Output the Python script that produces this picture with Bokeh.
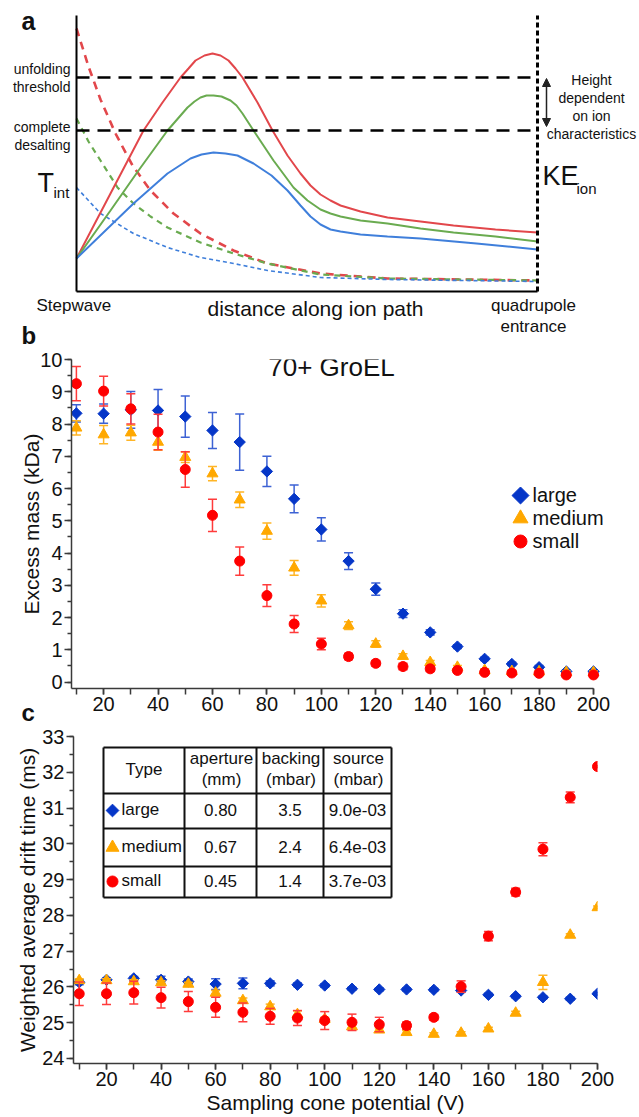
import numpy as np
from bokeh.plotting import figure
from bokeh.models import Range1d, Label, Arrow, NormalHead, FixedTicker
from bokeh.core.properties import value
from bokeh.embed import file_html
from bokeh.resources import INLINE

FONT = "Liberation Sans"

# ---------------- panel a : schematic (arbitrary units) ----------------
# distance along ion path (0 = stepwave, 461 = quadrupole entrance); energy units arbitrary
red_solid_d = [0, 34, 67, 86, 104, 112, 119, 128, 136, 144, 152, 159, 166, 181, 196, 211, 224, 234, 244, 254, 264, 284, 311, 344, 377, 419, 461]
red_solid_T = [33, 98, 161, 189, 214, 223, 231, 236, 238, 236, 231, 223, 214, 189, 161, 136, 118, 106, 97, 91, 86, 80, 74, 70, 66, 62, 59]
green_solid_d = [0, 34, 62, 91, 111, 118, 124, 130, 137, 145, 154, 160, 166, 177, 197, 217, 231, 244, 254, 264, 284, 311, 344, 377, 419, 461]
green_solid_T = [33, 81, 121, 161, 184, 190, 194, 196, 196, 195, 191, 186, 178, 161, 131, 104, 91, 82, 78, 75, 71, 68, 63, 59, 55, 50]
blue_solid_d = [0, 57, 91, 114, 125, 137, 149, 161, 177, 195, 211, 224, 234, 244, 254, 264, 284, 311, 344, 400, 461]
blue_solid_T = [33, 88, 118, 133, 137, 139, 138, 136, 128, 116, 101, 86, 75, 67, 62, 60, 57, 55, 53, 48, 42]
red_dash_d = [0, 12, 24, 39, 56, 74, 97, 124, 157, 191, 244, 311, 461]
red_dash_T = [263, 225, 192, 158, 126, 101, 78, 58, 41, 28, 18, 13, 11]
green_dash_d = [0, 12, 24, 41, 57, 74, 91, 124, 157, 191, 244, 311, 461]
green_dash_T = [173, 150, 131, 104, 88, 75, 64, 49, 38, 28, 17, 13, 11]
blue_dash_d = [0, 24, 57, 91, 124, 157, 191, 244, 311, 461]
blue_dash_T = [104, 78, 58, 44, 34, 28, 21, 14, 12, 10]
T_unfold = 214
T_desalt = 161
path_end = 461
energy_top = 276

# ---------------- panels b and c ----------------
voltage = [10, 20, 30, 40, 50, 60, 70, 80, 90, 100, 110, 120, 130, 140, 150, 160, 170, 180, 190, 200]

large_b = [8.33, 8.32, 8.44, 8.42, 8.23, 7.80, 7.44, 6.53, 5.68, 4.73, 3.75, 2.88, 2.12, 1.54, 1.10, 0.72, 0.56, 0.46, 0.33, 0.33]
large_b_err = [0.27, 0.30, 0.57, 0.65, 0.64, 0.56, 0.87, 0.47, 0.43, 0.36, 0.26, 0.19, 0.12, 0.08, 0.06, 0.05, 0.05, 0.05, 0.04, 0.04]
medium_b = [7.88, 7.67, 7.73, 7.44, 6.97, 6.46, 5.65, 4.68, 3.54, 2.52, 1.75, 1.18, 0.80, 0.61, 0.46, 0.36, 0.33, 0.32, 0.30, 0.30]
medium_b_err = [0.22, 0.28, 0.23, 0.25, 0.16, 0.22, 0.24, 0.25, 0.23, 0.19, 0.12, 0.10, 0.08, 0.06, 0.05, 0.05, 0.04, 0.04, 0.04, 0.04]
small_b = [9.25, 9.02, 8.47, 7.75, 6.59, 5.17, 3.75, 2.68, 1.80, 1.18, 0.79, 0.58, 0.48, 0.41, 0.36, 0.30, 0.28, 0.27, 0.22, 0.22]
small_b_err = [0.53, 0.46, 0.47, 0.55, 0.55, 0.50, 0.44, 0.34, 0.26, 0.18, 0.10, 0.09, 0.10, 0.08, 0.06, 0.05, 0.05, 0.05, 0.05, 0.05]

large_c = [26.13, 26.20, 26.24, 26.20, 26.15, 26.08, 26.10, 26.10, 26.06, 26.04, 25.95, 25.93, 25.93, 25.92, 25.90, 25.78, 25.74, 25.71, 25.67, 25.81]
large_c_err = [0.07, 0.05, 0.05, 0.10, 0.07, 0.15, 0.15, 0.07, 0.05, 0.05, 0.04, 0.04, 0.04, 0.04, 0.04, 0.04, 0.04, 0.04, 0.04, 0.04]
medium_c = [26.18, 26.18, 26.15, 26.12, 26.08, 25.83, 25.62, 25.45, 25.23, 25.10, 24.89, 24.80, 24.73, 24.68, 24.71, 24.83, 25.27, 26.13, 27.45, 28.22]
medium_c_err = [0.05, 0.05, 0.05, 0.05, 0.05, 0.07, 0.07, 0.07, 0.10, 0.05, 0.05, 0.05, 0.05, 0.04, 0.04, 0.04, 0.05, 0.20, 0.04, 0.04]
small_c = [25.81, 25.81, 25.84, 25.70, 25.59, 25.43, 25.29, 25.18, 25.13, 25.06, 25.01, 24.95, 24.92, 25.15, 26.01, 27.42, 28.65, 29.85, 31.30, 32.16]
small_c_err = [0.33, 0.30, 0.32, 0.29, 0.28, 0.28, 0.26, 0.22, 0.21, 0.25, 0.23, 0.20, 0.10, 0.08, 0.16, 0.13, 0.11, 0.18, 0.15, 0.03]

series_names = ["large", "medium", "small"]
aperture_mm = ["0.80", "0.67", "0.45"]
backing_mbar = ["3.5", "2.4", "1.4"]
source_mbar = ["9.0e-03", "6.4e-03", "3.7e-03"]
table_header = [["Type"], ["aperture", "(mm)"], ["backing", "(mbar)"], ["source", "(mbar)"]]

colors = ["#0536C8", "#FFA800", "#FF0000"]
err_colors = ["#3D62D4", "#FFB526", "#FF3B3B"]
markers = ["square", "triangle", "circle"]
angles = [np.pi / 4, 0, 0]
msizes = [8, 11, 10]

W = 639
HA = 348
HB = 377
HC = 1117 - HA - HB


def txt(p, x, y, s, size, align="left", baseline="middle", bold=False, angle=0):
    p.text(x=[x], y=[y], text=[s], text_font=value(FONT), text_font_size=f"{size}px",
           text_align=align, text_baseline=baseline, angle=angle,
           text_font_style="bold" if bold else "normal", text_color="#111111")


# ======================= panel a =======================
pa = figure(width=W, height=HA, x_range=Range1d(-76, W - 76), y_range=Range1d(291 - HA, 291),
            output_backend="svg", toolbar_location=None, x_axis_type=None, y_axis_type=None,
            title=None,
            min_border_left=0, min_border_right=0, min_border_top=0, min_border_bottom=0)
pa.grid.visible = False
pa.outline_line_color = None


def ad(px):
    return px - 76


def aT(py):
    return 291 - py


red_a, green_a, blue_a = "#E2474B", "#6AAB50", "#3F7FDB"
pa.line(red_dash_d, red_dash_T, line_color=red_a, line_width=2.6, line_dash="8 6")
pa.line(green_dash_d, green_dash_T, line_color=green_a, line_width=2.2, line_dash="6 5")
pa.line(blue_dash_d, blue_dash_T, line_color=blue_a, line_width=1.6, line_dash="4 3")
pa.line(red_solid_d, red_solid_T, line_color=red_a, line_width=2)
pa.line(green_solid_d, green_solid_T, line_color=green_a, line_width=2)
pa.line(blue_solid_d, blue_solid_T, line_color=blue_a, line_width=2)
pa.line([0, path_end], [T_unfold, T_unfold], line_color="black", line_width=2.5, line_dash="13 8")
pa.line([0, path_end], [T_desalt, T_desalt], line_color="black", line_width=2.5, line_dash="13 8")
pa.line([0, 0], [0, energy_top], line_color="black", line_width=2)
pa.line([0, path_end], [0, 0], line_color="black", line_width=2)
pa.line([path_end, path_end], [0, energy_top], line_color="black", line_width=3, line_dash="5 3")
pa.add_layout(Arrow(x_start=ad(546), y_start=T_desalt + 4, x_end=ad(546), y_end=T_unfold - 1,
                    line_width=1.5, line_color="#222222",
                    start=NormalHead(size=8, fill_color="#222222", line_color="#222222"),
                    end=NormalHead(size=8, fill_color="#222222", line_color="#222222")))

txt(pa, ad(21), aT(20), "a", 25, bold=True)
txt(pa, ad(70), aT(68), "unfolding", 14, align="right")
txt(pa, ad(70), aT(86), "threshold", 14, align="right")
txt(pa, ad(70), aT(126), "complete", 14, align="right")
txt(pa, ad(70), aT(144), "desalting", 14, align="right")
txt(pa, ad(37), aT(182), "T", 27)
txt(pa, ad(53), aT(192), "int", 15)
txt(pa, ad(542), aT(175), "KE", 27)
txt(pa, ad(576), aT(188), "ion", 15)
for i, s in enumerate(["Height", "dependent", "on ion", "characteristics"]):
    txt(pa, ad(591), aT(79 + 18 * i), s, 14, align="center")
txt(pa, ad(36), aT(305), "Stepwave", 17)
txt(pa, ad(315), aT(308), "distance along ion path", 21, align="center")
txt(pa, ad(533), aT(305), "quadrupole", 17, align="center")
txt(pa, ad(533), aT(326), "entrance", 17, align="center")
txt(pa, ad(21), aT(335), "b", 24, bold=True)


# ======================= axes style =======================
def style_axes(p, xlabel_font=21):
    for ax in [p.xaxis[0], p.yaxis[0]]:
        ax.axis_line_color = "#3a3a3a"
        ax.axis_line_width = 1.5
        ax.major_tick_line_color = "#3a3a3a"
        ax.minor_tick_line_color = "#3a3a3a"
        ax.major_tick_line_width = 1.5
        ax.minor_tick_line_width = 1.5
        ax.major_tick_in = 0
        ax.minor_tick_in = 0
        ax.major_label_text_font = FONT
        ax.major_label_text_font_size = "20px"
        ax.major_label_text_color = "#111111"
        ax.major_label_standoff = 2
        ax.axis_label_text_font = FONT
        ax.axis_label_text_font_size = f"{xlabel_font}px"
        ax.axis_label_text_font_style = "normal"
        ax.axis_label_text_color = "#111111"
    p.xaxis[0].major_tick_out = 6
    p.xaxis[0].minor_tick_out = 6
    p.yaxis[0].major_tick_out = 7
    p.yaxis[0].minor_tick_out = 4
    p.grid.visible = False
    p.outline_line_color = None


def draw_series(p, x, y, e, k):
    lo = [a - b for a, b in zip(y, e)]
    hi = [a + b for a, b in zip(y, e)]
    p.segment(x0=x, y0=lo, x1=x, y1=hi, line_color=err_colors[k], line_width=1.5)
    p.scatter(x + x, lo + hi, marker="dash", size=9, line_color=err_colors[k], line_width=1.5)
    p.scatter(x, y, marker=markers[k], angle=angles[k], size=msizes[k],
              fill_color=colors[k], line_color=colors[k], line_width=1)


# ======================= panel b =======================
B_TOP, B_BOT, B_L, B_R = 359, 688, 71, 593     # pixel positions of 10 kDa, axis line, 8.2 V, 200 V
B_FR = 632                                     # frame right edge (room for legend text)
bx0, bx200, by0, by1 = 8.2, 200, -0.2, 10
bkx = (B_R - B_L) / (bx200 - bx0)
pb = figure(width=W, height=HB, x_range=Range1d(bx0, bx200 + (B_FR - B_R) / bkx), y_range=Range1d(by0, by1),
            output_backend="svg", toolbar_location=None, title=None,
            min_border_left=B_L, min_border_right=W - B_FR,
            min_border_top=B_TOP - HA, min_border_bottom=HA + HB - B_BOT)
pb.xaxis.ticker = FixedTicker(ticks=list(range(20, 201, 20)), minor_ticks=list(range(10, 201, 10)))
pb.xaxis.bounds = (bx0, bx200)
pb.yaxis.ticker = FixedTicker(ticks=list(range(0, 11)), minor_ticks=[i * 0.5 for i in range(21)])
pb.yaxis.axis_label = "Excess mass (kDa)"
style_axes(pb)
pb.yaxis.axis_label_standoff = -6


def bx(px):
    return bx0 + (px - B_L) / bkx


def by(py):
    return by0 + (B_BOT - py) * (by1 - by0) / (B_BOT - B_TOP)


for k, (yv, ev) in enumerate([(large_b, large_b_err), (medium_b, medium_b_err), (small_b, small_b_err)]):
    draw_series(pb, voltage, yv, ev, k)

txt(pb, bx(331), by(366), "70+ GroEL", 26, align="center")
leg_sizes = [12, 15, 13]
for k, (py, name) in enumerate(zip([494, 517, 540], series_names)):
    pb.scatter([bx(520)], [by(py + 1)], marker=markers[k], angle=angles[k], size=leg_sizes[k],
               fill_color=colors[k], line_color=colors[k])
    txt(pb, bx(532), by(py), name, 20)
# panel letter "c" sits left of the frame: put the label in the left side panel (not clipped)
pb.add_layout(Label(x=bx(21), y=by(712), text="c", text_font=FONT, text_font_size="24px",
                    text_font_style="bold", text_baseline="middle", text_color="#111111"), "left")

# ======================= panel c =======================
C_TOP, C_BOT, C_L, C_R = 736, 1063, 73, 597
cx0, cx1, cy0, cy1 = 7.9, 200, 23.86, 33
pc = figure(width=W, height=HC, x_range=Range1d(cx0, cx1), y_range=Range1d(cy0, cy1),
            output_backend="svg", toolbar_location=None, title=None,
            min_border_left=C_L, min_border_right=W - C_R,
            min_border_top=C_TOP - HA - HB, min_border_bottom=1117 - C_BOT)
pc.xaxis.ticker = FixedTicker(ticks=list(range(20, 201, 20)), minor_ticks=list(range(10, 201, 10)))
pc.yaxis.ticker = FixedTicker(ticks=list(range(24, 34)), minor_ticks=[24 + i * 0.5 for i in range(19)])
pc.yaxis.axis_label = "Weighted average drift time (ms)"
pc.xaxis.axis_label = "Sampling cone potential (V)"
style_axes(pc)
pc.yaxis.axis_label_standoff = 0
pc.xaxis.axis_label_standoff = 2


def cx(px):
    return cx0 + (px - C_L) * (cx1 - cx0) / (C_R - C_L)


def cy(py):
    return cy0 + (C_BOT - py) * (cy1 - cy0) / (C_BOT - C_TOP)


for k, (yv, ev) in enumerate([(large_c, large_c_err), (medium_c, medium_c_err), (small_c, small_c_err)]):
    draw_series(pc, voltage, yv, ev, k)

# table
col_px = [103, 184, 256, 323, 391]
row_py = [747, 793, 828, 866, 897]
pc.segment(x0=[cx(col_px[0])] * 5, y0=[cy(r) for r in row_py], x1=[cx(col_px[-1])] * 5,
           y1=[cy(r) for r in row_py], line_color="#111111", line_width=2)
pc.segment(x0=[cx(c) for c in col_px], y0=[cy(row_py[0])] * 5, x1=[cx(c) for c in col_px],
           y1=[cy(row_py[-1])] * 5, line_color="#111111", line_width=2)
col_centers = [(col_px[i] + col_px[i + 1]) / 2 for i in range(4)]
for i, lines in enumerate(table_header):
    if len(lines) == 1:
        txt(pc, cx(col_centers[i]), cy(769), lines[0], 17, align="center")
    else:
        txt(pc, cx(col_centers[i] + 1), cy(758), lines[0], 17, align="center")
        txt(pc, cx(col_centers[i] + 1), cy(779), lines[1], 17, align="center")
row_centers = [810, 847, 881]
tab_sizes = [9, 13, 11]
for k in range(3):
    ry = row_centers[k]
    pc.scatter([cx(112)], [cy(ry)], marker=markers[k], angle=angles[k], size=tab_sizes[k],
               fill_color=colors[k], line_color=colors[k])
    txt(pc, cx(121), cy(ry - 1), series_names[k], 17)
    txt(pc, cx(col_centers[1]), cy(ry - 1), aperture_mm[k], 17, align="center")
    txt(pc, cx(col_centers[2]), cy(ry - 1), backing_mbar[k], 17, align="center")
    txt(pc, cx(col_centers[3]), cy(ry - 1), source_mbar[k], 17, align="center")

open("out.html", "w").write(file_html([pa, pb, pc], INLINE))
